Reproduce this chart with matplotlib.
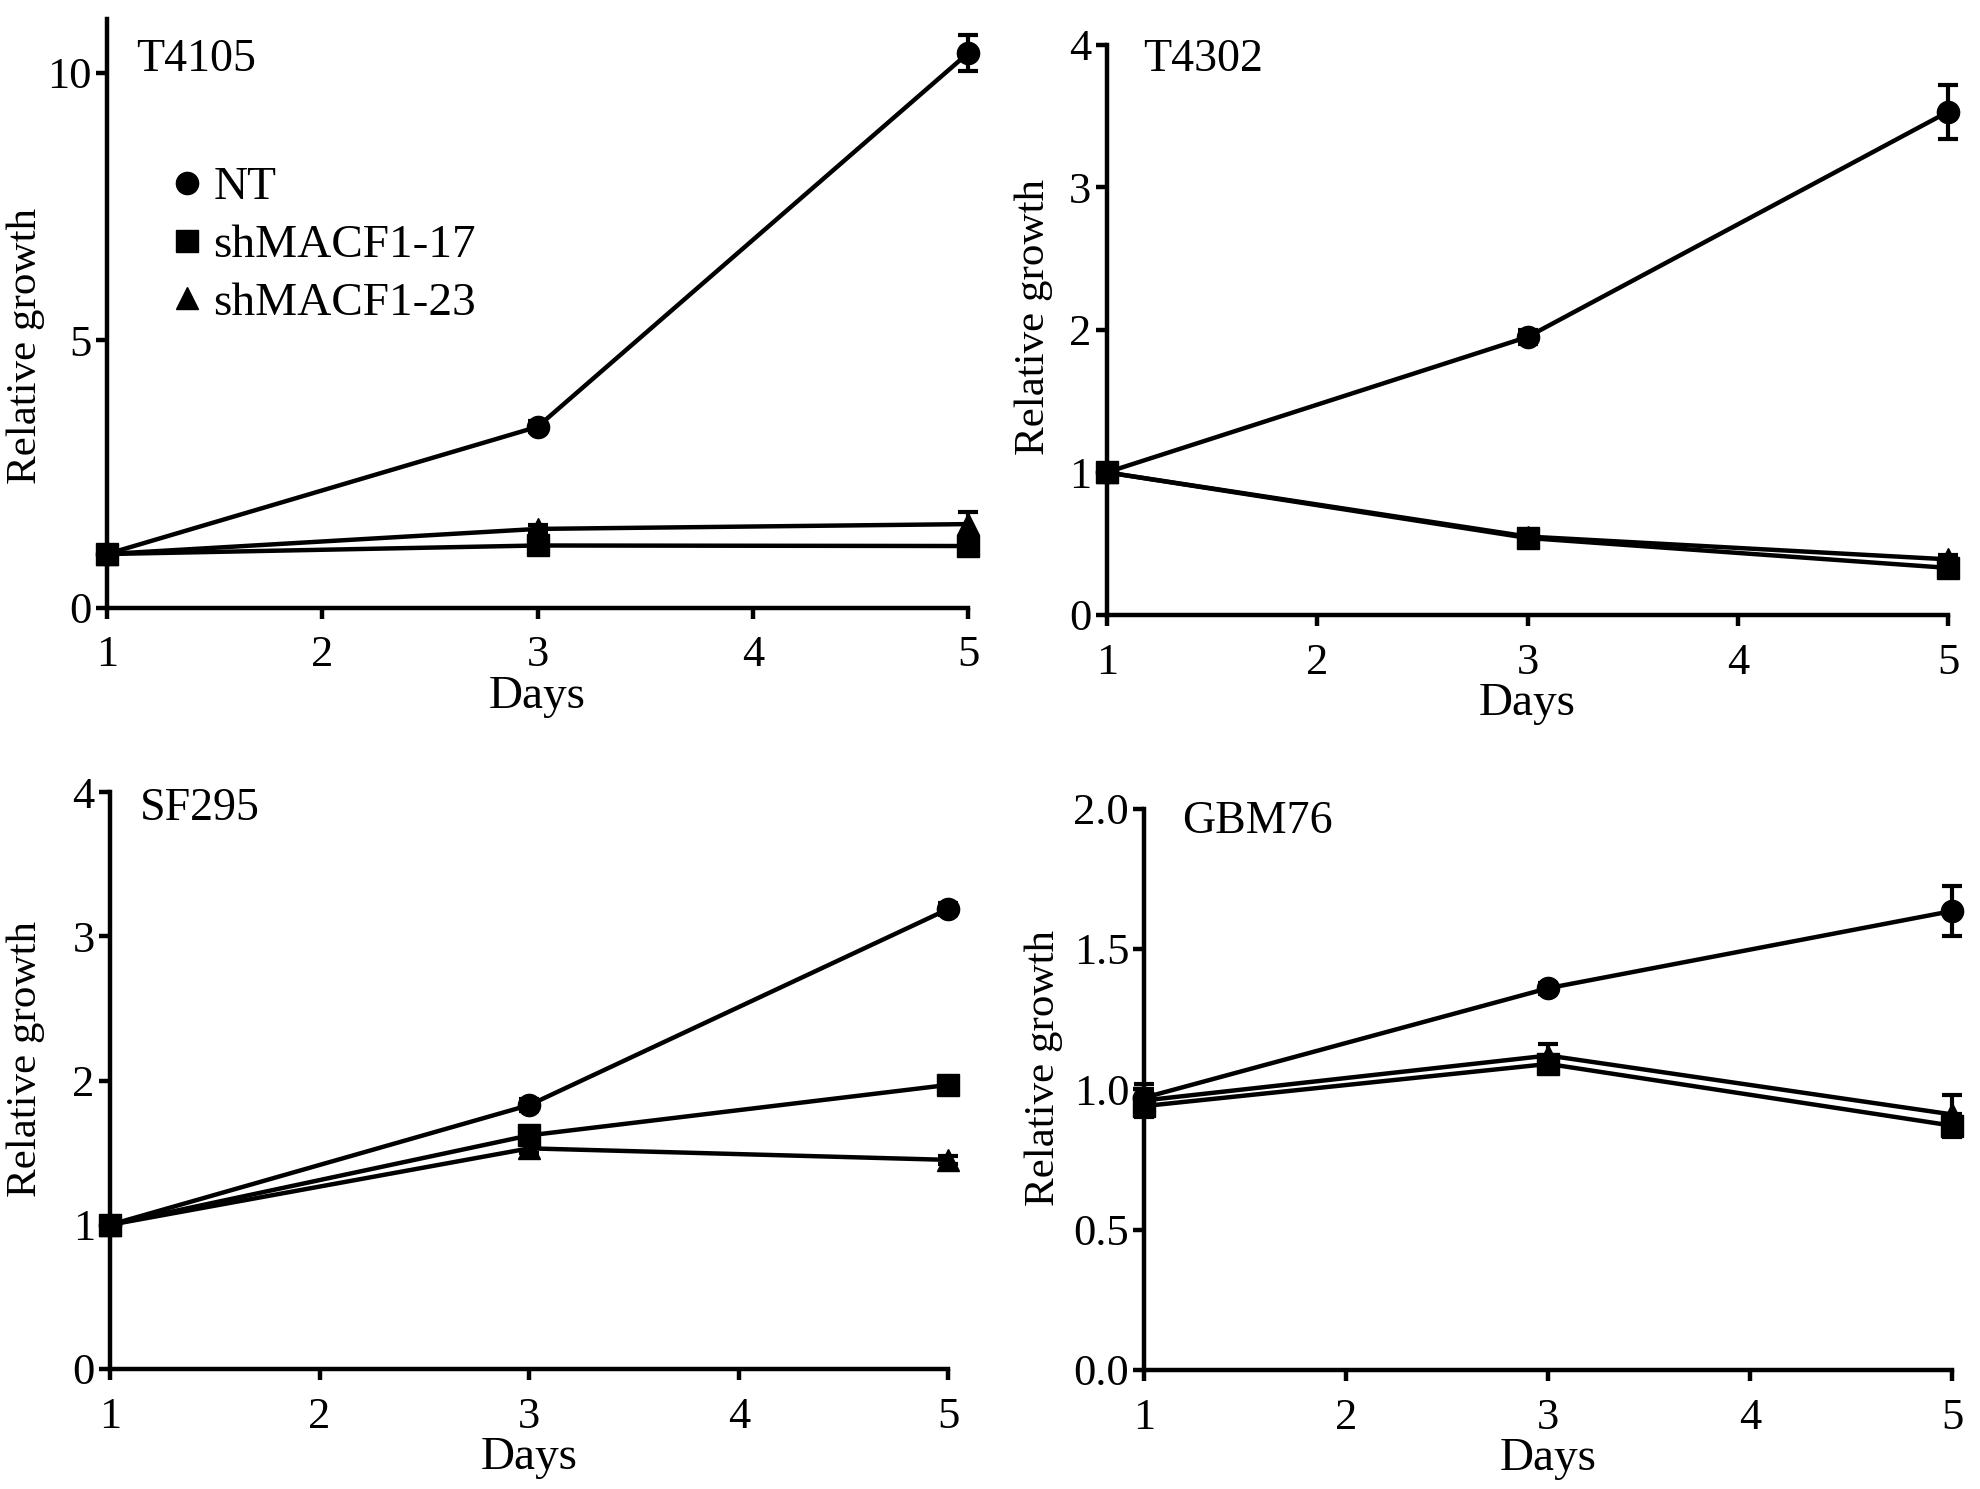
import matplotlib
matplotlib.use("Agg")
import matplotlib.pyplot as plt
from matplotlib.lines import Line2D

plt.rcParams['font.family'] = ['Liberation Serif', 'DejaVu Serif']

days = [1, 3, 5]
series_names = ["NT", "shMACF1-17", "shMACF1-23"]
markers = ["o", "s", "^"]

# T4105
t4105_nt = [1.0, 3.38, 10.37]
t4105_nt_err = [0.05, 0.1, 0.33]
t4105_17 = [1.0, 1.16, 1.15]
t4105_17_err = [0.03, 0.05, 0.05]
t4105_23 = [1.0, 1.47, 1.56]
t4105_23_err = [0.03, 0.08, 0.22]

# T4302
t4302_nt = [1.0, 1.95, 3.53]
t4302_nt_err = [0.03, 0.05, 0.19]
t4302_17 = [1.0, 0.54, 0.33]
t4302_17_err = [0.03, 0.03, 0.03]
t4302_23 = [1.0, 0.55, 0.39]
t4302_23_err = [0.03, 0.03, 0.03]

# SF295
sf295_nt = [1.0, 1.83, 3.19]
sf295_nt_err = [0.02, 0.04, 0.04]
sf295_17 = [1.0, 1.62, 1.97]
sf295_17_err = [0.02, 0.04, 0.04]
sf295_23 = [1.0, 1.53, 1.45]
sf295_23_err = [0.02, 0.03, 0.03]

# GBM76
gbm76_nt = [0.97, 1.36, 1.635]
gbm76_nt_err = [0.05, 0.02, 0.09]
gbm76_17 = [0.94, 1.09, 0.87]
gbm76_17_err = [0.04, 0.03, 0.04]
gbm76_23 = [0.96, 1.12, 0.91]
gbm76_23_err = [0.04, 0.04, 0.07]

# title, values, errors, ylim, yticks, ytick labels, axes rect, title pos, ylabel pos
panels = [
    ("T4105", [t4105_nt, t4105_17, t4105_23], [t4105_nt_err, t4105_17_err, t4105_23_err],
     (0, 11), [0, 5, 10], ["0", "5", "10"], [0.054, 0.592, 0.435, 0.395],
     (0.034, 0.932), (-0.072, 0.444)),
    ("T4302", [t4302_nt, t4302_17, t4302_23], [t4302_nt_err, t4302_17_err, t4302_23_err],
     (0, 4), [0, 1, 2, 3, 4], ["0", "1", "2", "3", "4"], [0.559, 0.587, 0.425, 0.383],
     (0.043, 0.974), (-0.064, 0.522)),
    ("SF295", [sf295_nt, sf295_17, sf295_23], [sf295_nt_err, sf295_17_err, sf295_23_err],
     (0, 4), [0, 1, 2, 3, 4], ["0", "1", "2", "3", "4"], [0.0556, 0.0806, 0.4234, 0.3874],
     (0.035, 0.972), (-0.078, 0.537)),
    ("GBM76", [gbm76_nt, gbm76_17, gbm76_23], [gbm76_nt_err, gbm76_17_err, gbm76_23_err],
     (0, 2), [0, 0.5, 1.0, 1.5, 2.0], ["0.0", "0.5", "1.0", "1.5", "2.0"], [0.578, 0.080, 0.408, 0.377],
     (0.047, 0.977), (-0.101, 0.537)),
]

fig = plt.figure(figsize=(19.8, 14.89), dpi=100)

for title, values, errs, ylim, yticks, ylabels, rect, title_pos, ylab_pos in panels:
    ax = fig.add_axes(rect)
    # draw knockdowns first so NT sits on top
    for i in [2, 1, 0]:
        ax.errorbar(days, values[i], yerr=errs[i], color='black', marker=markers[i],
                    markersize=16, linewidth=3.2, elinewidth=3, capsize=7, capthick=3,
                    clip_on=False, zorder=3 + (2 - i))
    ax.set_xlim(1, 5)
    ax.set_ylim(*ylim)
    ax.set_xticks([1, 2, 3, 4, 5])
    ax.set_yticks(yticks)
    ax.set_yticklabels(ylabels)
    ax.spines['top'].set_visible(False)
    ax.spines['right'].set_visible(False)
    for s in ['left', 'bottom']:
        ax.spines[s].set_linewidth(3.2)
    ax.tick_params(width=3.2, length=8, labelsize=32)
    ax.tick_params(axis='x', pad=12)
    ax.tick_params(axis='y', pad=3)
    ax.set_xlabel("Days", fontsize=34, labelpad=0)
    ax.set_ylabel("Relative growth", fontsize=31)
    ax.yaxis.set_label_coords(*ylab_pos)
    ax.text(title_pos[0], title_pos[1], title, transform=ax.transAxes,
            fontsize=33, va='center', ha='left')
    if title == "T4105":
        handles = [Line2D([], [], color='black', marker=m, linestyle='none', markersize=16)
                   for m in markers]
        ax.legend(handles, series_names, loc='upper left', bbox_to_anchor=(0.077, 0.75),
                  frameon=False, fontsize=34, handlelength=0.6, handletextpad=0.25,
                  labelspacing=0.31, borderpad=0, borderaxespad=0)

fig.savefig("out.png", dpi=100)
